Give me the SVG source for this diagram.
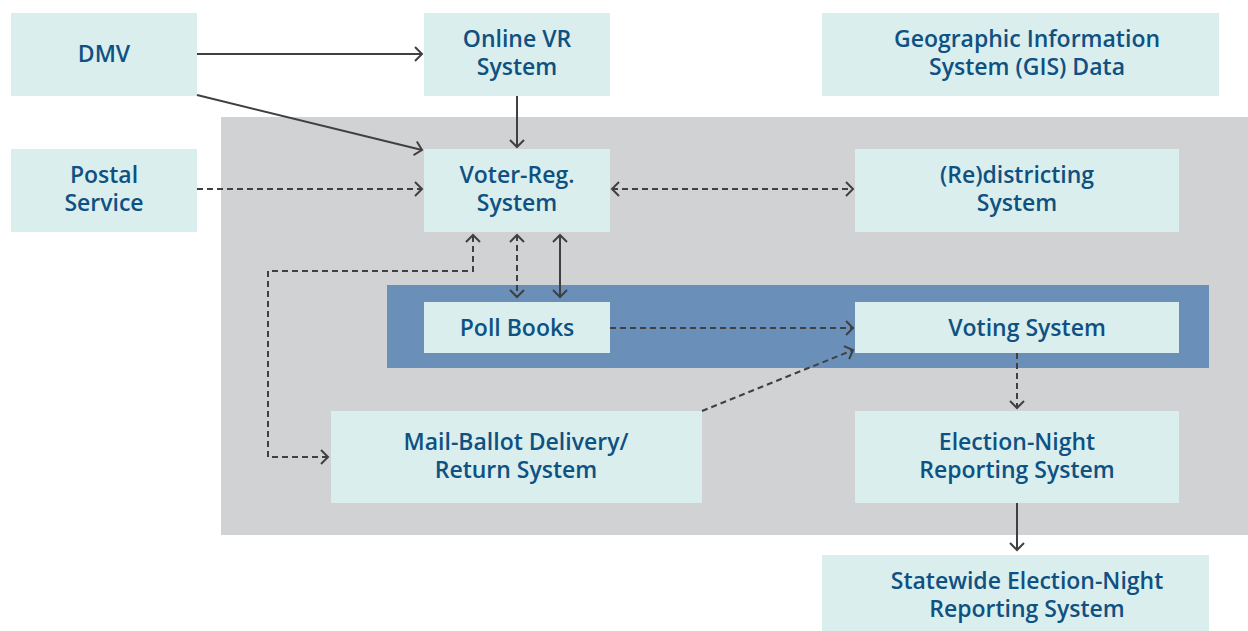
<svg xmlns="http://www.w3.org/2000/svg" width="1248" height="631" viewBox="0 0 1248 631">
  <defs>
    <marker id="chev" viewBox="-10 -10 20 20" markerWidth="20" markerHeight="20" markerUnits="userSpaceOnUse" orient="auto-start-reverse" refX="0" refY="0">
      <path d="M-7,-7 L0,0 L-7,7" fill="none" stroke="#404042" stroke-width="2" stroke-linejoin="miter"/>
    </marker>
    <style>
      .box { fill: #daeeed; }
      .zone { fill: #d1d2d4; }
      .band { fill: #6a8fb8; }
      .lbl { font-family: "Open Sans", "Noto Sans", "Liberation Sans", sans-serif; font-weight: 600; font-size: 23px; fill: #0e5182; text-anchor: middle; }
      .ln { fill: none; stroke: #404042; stroke-width: 2; }
      .dash { stroke-dasharray: 6 4; }
    </style>
  </defs>

  <rect width="1248" height="631" fill="#ffffff"/>

  <!-- background regions -->
  <rect class="zone" x="221" y="117" width="1027" height="418"/>
  <rect class="band" x="387" y="285" width="822" height="83"/>

  <g id="dmv">
    <rect class="box" x="11" y="13" width="186" height="83"/>
    <text class="lbl" x="104" y="62">DMV</text>
  </g>
  <g id="online-vr">
    <rect class="box" x="424" y="13" width="186" height="83"/>
    <text class="lbl" x="517" y="47">Online VR</text>
    <text class="lbl" x="517" y="75">System</text>
  </g>
  <g id="gis">
    <rect class="box" x="822" y="13" width="397" height="83"/>
    <text class="lbl" x="1027" y="47">Geographic Information</text>
    <text class="lbl" x="1027" y="75">System (GIS) Data</text>
  </g>
  <g id="postal">
    <rect class="box" x="11" y="149" width="186" height="83"/>
    <text class="lbl" x="104" y="183">Postal</text>
    <text class="lbl" x="104" y="211">Service</text>
  </g>
  <g id="voter-reg">
    <rect class="box" x="424" y="149" width="186" height="83"/>
    <text class="lbl" x="517" y="183">Voter-Reg.</text>
    <text class="lbl" x="517" y="211">System</text>
  </g>
  <g id="redistricting">
    <rect class="box" x="855" y="149" width="324" height="83"/>
    <text class="lbl" x="1017" y="183">(Re)districting</text>
    <text class="lbl" x="1017" y="211">System</text>
  </g>
  <g id="poll-books">
    <rect class="box" x="424" y="302" width="186" height="51"/>
    <text class="lbl" x="517" y="336">Poll Books</text>
  </g>
  <g id="voting">
    <rect class="box" x="855" y="302" width="324" height="51"/>
    <text class="lbl" x="1027" y="336">Voting System</text>
  </g>
  <g id="mail-ballot">
    <rect class="box" x="331" y="411" width="371" height="92"/>
    <text class="lbl" x="516" y="450">Mail-Ballot Delivery/</text>
    <text class="lbl" x="516" y="478">Return System</text>
  </g>
  <g id="enr">
    <rect class="box" x="855" y="411" width="324" height="92"/>
    <text class="lbl" x="1017" y="450">Election-Night</text>
    <text class="lbl" x="1017" y="478">Reporting System</text>
  </g>
  <g id="statewide-enr">
    <rect class="box" x="822" y="555" width="387" height="76"/>
    <text class="lbl" x="1027" y="589">Statewide Election-Night</text>
    <text class="lbl" x="1027" y="617">Reporting System</text>
  </g>

  <g id="connectors">
    <!-- solid flows -->
    <path class="ln" d="M197,54 H422" marker-end="url(#chev)"/>
    <path class="ln" d="M197,95 L422,150" marker-end="url(#chev)"/>
    <path class="ln" d="M517,96 V147" marker-end="url(#chev)"/>
    <path class="ln" d="M560,235 V297" marker-start="url(#chev)" marker-end="url(#chev)"/>
    <path class="ln" d="M1017,503 V550" marker-end="url(#chev)"/>
    <!-- dashed flows -->
    <path class="ln dash" d="M197,189 H422" marker-end="url(#chev)"/>
    <path class="ln dash" d="M612,189 H853" marker-start="url(#chev)" marker-end="url(#chev)"/>
    <path class="ln dash" d="M517,235 V297" marker-start="url(#chev)" marker-end="url(#chev)"/>
    <path class="ln dash" d="M328,457 H268 V271 H473 V235" marker-start="url(#chev)" marker-end="url(#chev)"/>
    <path class="ln dash" d="M610,328 H853" marker-end="url(#chev)"/>
    <path class="ln dash" d="M702,411 L853,350" marker-end="url(#chev)"/>
    <path class="ln dash" d="M1017,353 V408" marker-end="url(#chev)"/>
  </g>
</svg>
